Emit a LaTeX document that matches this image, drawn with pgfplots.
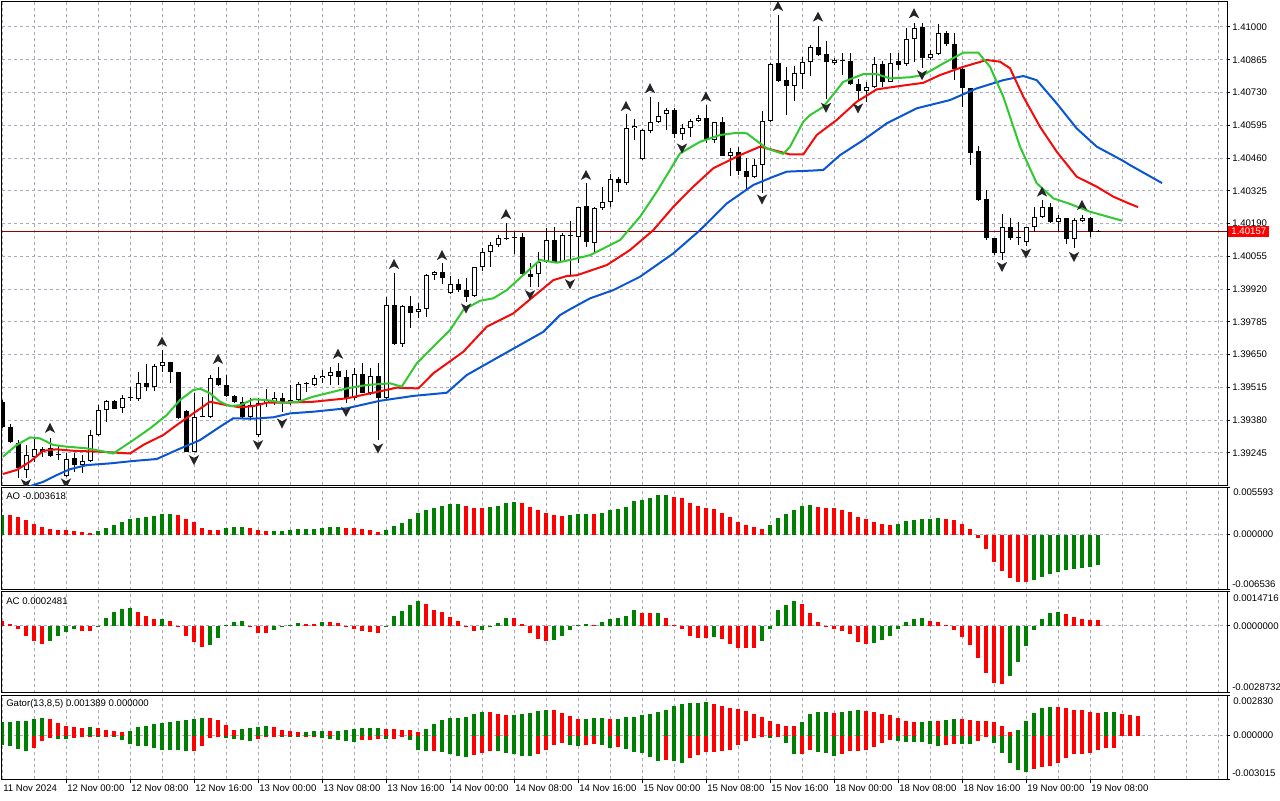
\documentclass[border=0pt]{standalone}
\usepackage{pgfplots}
\pgfplotsset{compat=1.18}
\usepackage{pgfplotstable}
\usepackage{fontspec}
\setmainfont{Liberation Sans}
\newcommand\mt{\fontsize{7.2}{8.6}\selectfont}
\definecolor{gridc}{RGB}{170,170,185}
\definecolor{hgreen}{RGB}{0,128,0}
\definecolor{hred}{RGB}{255,0,0}
\definecolor{jawc}{RGB}{10,85,210}
\definecolor{teethc}{RGB}{245,10,10}
\definecolor{lipsc}{RGB}{50,200,50}
\definecolor{bidc}{RGB}{150,0,0}
\pgfdeclareplotmark{fup}{%
  \pgfpathmoveto{\pgfqpoint{0pt}{3.9pt}}%
  \pgfpathlineto{\pgfqpoint{3.9pt}{-3.7pt}}%
  \pgfpathlineto{\pgfqpoint{0pt}{-1.6pt}}%
  \pgfpathlineto{\pgfqpoint{-3.9pt}{-3.7pt}}%
  \pgfpathclose\pgfusepathqfill}
\pgfdeclareplotmark{fdn}{%
  \pgfpathmoveto{\pgfqpoint{0pt}{-3.9pt}}%
  \pgfpathlineto{\pgfqpoint{3.9pt}{3.7pt}}%
  \pgfpathlineto{\pgfqpoint{0pt}{1.6pt}}%
  \pgfpathlineto{\pgfqpoint{-3.9pt}{3.7pt}}%
  \pgfpathclose\pgfusepathqfill}
\pgfplotsset{
  mtpanel/.style={scale only axis, width=919.125pt, xmin=-0.0625, xmax=153.125,
    axis line style={black, line width=0.75pt},
    xtick={0,4,...,152}, xticklabel=\empty, xtick style={draw=none},
    ytick pos=right, yticklabel pos=right, tick align=outside, major tick length=2.25pt,
    ytick style={black, line width=0.75pt}, scaled y ticks=false,
    grid=major, grid style={gridc, line width=0.75pt, dash pattern=on 2.25pt off 2.25pt},
    clip=true},
  ebar/.style 2 args={draw=none, mark=none, forget plot, error bars/.cd, y dir=plus, y explicit, error mark=none,
    error bar style={draw=#1, solid, line width=#2}},
}
\pgfplotstableread{
i o h l c
0 1.39456 1.39463 1.39348 1.39351
1 1.39351 1.39363 1.39285 1.39291
2 1.39285 1.39298 1.39140 1.39182
3 1.39175 1.39278 1.39140 1.39236
4 1.39229 1.39301 1.39209 1.39261
5 1.39261 1.39271 1.39229 1.39250
6 1.39264 1.39305 1.39229 1.39232
7 1.39236 1.39278 1.39216 1.39235
8 1.39151 1.39246 1.39147 1.39219
9 1.39223 1.39246 1.39168 1.39195
10 1.39195 1.39236 1.39164 1.39213
11 1.39213 1.39339 1.39209 1.39318
12 1.39318 1.39442 1.39315 1.39422
13 1.39422 1.39463 1.39374 1.39459
14 1.39459 1.39463 1.39425 1.39427
15 1.39429 1.39482 1.39411 1.39472
16 1.39472 1.39515 1.39460 1.39474
17 1.39466 1.39578 1.39460 1.39534
18 1.39534 1.39610 1.39501 1.39515
19 1.39515 1.39610 1.39501 1.39603
20 1.39603 1.39669 1.39580 1.39618
21 1.39618 1.39620 1.39534 1.39577
22 1.39577 1.39580 1.39384 1.39388
23 1.39418 1.39422 1.39248 1.39250
24 1.39250 1.39491 1.39248 1.39392
25 1.39394 1.39477 1.39392 1.39396
26 1.39394 1.39566 1.39388 1.39555
27 1.39555 1.39598 1.39521 1.39525
28 1.39525 1.39566 1.39477 1.39480
29 1.39480 1.39484 1.39449 1.39456
30 1.39456 1.39477 1.39388 1.39392
31 1.39392 1.39470 1.39381 1.39442
32 1.39319 1.39470 1.39312 1.39449
33 1.39451 1.39507 1.39435 1.39463
34 1.39456 1.39497 1.39442 1.39472
35 1.39472 1.39491 1.39414 1.39449
36 1.39453 1.39525 1.39442 1.39463
37 1.39463 1.39538 1.39459 1.39528
38 1.39528 1.39538 1.39497 1.39529
39 1.39525 1.39566 1.39521 1.39552
40 1.39552 1.39587 1.39534 1.39562
41 1.39562 1.39600 1.39525 1.39577
42 1.39582 1.39617 1.39525 1.39556
43 1.39556 1.39587 1.39449 1.39470
44 1.39470 1.39594 1.39463 1.39570
45 1.39570 1.39614 1.39491 1.39493
46 1.39493 1.39594 1.39484 1.39562
47 1.39562 1.39617 1.39298 1.39470
48 1.39470 1.39889 1.39467 1.39854
49 1.39854 1.39988 1.39690 1.39694
50 1.39694 1.39854 1.39683 1.39850
51 1.39850 1.39892 1.39758 1.39823
52 1.39824 1.39861 1.39800 1.39838
53 1.39838 1.39982 1.39806 1.39980
54 1.39980 1.39996 1.39957 1.39989
55 1.39989 1.40026 1.39941 1.39964
56 1.39903 1.39974 1.39900 1.39940
57 1.39940 1.39960 1.39908 1.39916
58 1.39916 1.39967 1.39868 1.39889
59 1.39892 1.40012 1.39887 1.40010
60 1.40012 1.40088 1.39996 1.40072
61 1.40072 1.40113 1.40012 1.40102
62 1.40102 1.40143 1.40095 1.40129
63 1.40129 1.40194 1.40122 1.40126
64 1.40133 1.40156 1.40064 1.40130
65 1.40133 1.40150 1.39974 1.39982
66 1.39982 1.40027 1.39929 1.39970
67 1.39982 1.40074 1.39930 1.40033
68 1.40030 1.40170 1.40027 1.40122
69 1.40122 1.40177 1.40027 1.40033
70 1.40033 1.40150 1.40030 1.40143
71 1.40140 1.40202 1.39974 1.40142
72 1.40133 1.40259 1.40026 1.40257
73 1.40262 1.40356 1.40095 1.40113
74 1.40111 1.40257 1.40067 1.40253
75 1.40253 1.40339 1.40246 1.40280
76 1.40278 1.40394 1.40257 1.40372
77 1.40372 1.40383 1.40321 1.40356
78 1.40356 1.40641 1.40349 1.40582
79 1.40582 1.40621 1.40534 1.40592
80 1.40456 1.40580 1.40452 1.40575
81 1.40573 1.40710 1.40564 1.40610
82 1.40610 1.40690 1.40606 1.40634
83 1.40640 1.40665 1.40575 1.40658
84 1.40658 1.40665 1.40541 1.40558
85 1.40558 1.40600 1.40534 1.40582
86 1.40582 1.40621 1.40548 1.40614
87 1.40614 1.40637 1.40608 1.40624
88 1.40624 1.40678 1.40521 1.40534
89 1.40534 1.40610 1.40521 1.40607
90 1.40610 1.40630 1.40468 1.40470
91 1.40470 1.40500 1.40387 1.40486
92 1.40486 1.40507 1.40390 1.40408
93 1.40408 1.40459 1.40328 1.40380
94 1.40380 1.40455 1.40378 1.40431
95 1.40431 1.40654 1.40315 1.40614
96 1.40614 1.40853 1.40610 1.40847
97 1.40853 1.41049 1.40773 1.40779
98 1.40781 1.40836 1.40637 1.40758
99 1.40758 1.40839 1.40696 1.40809
100 1.40806 1.40875 1.40744 1.40854
101 1.40854 1.40926 1.40798 1.40916
102 1.40916 1.41004 1.40880 1.40884
103 1.40889 1.40942 1.40703 1.40854
104 1.40850 1.40873 1.40843 1.40864
105 1.40861 1.40891 1.40802 1.40862
106 1.40860 1.40894 1.40761 1.40764
107 1.40765 1.40784 1.40699 1.40737
108 1.40737 1.40774 1.40692 1.40751
109 1.40751 1.40877 1.40748 1.40846
110 1.40846 1.40861 1.40754 1.40774
111 1.40774 1.40891 1.40773 1.40853
112 1.40860 1.40891 1.40823 1.40843
113 1.40846 1.40994 1.40839 1.40949
114 1.40949 1.41017 1.40857 1.40994
115 1.40998 1.41017 1.40831 1.40871
116 1.40871 1.40905 1.40864 1.40889
117 1.40889 1.41012 1.40884 1.40974
118 1.40974 1.40985 1.40922 1.40930
119 1.40930 1.40974 1.40781 1.40826
120 1.40826 1.40836 1.40671 1.40747
121 1.40747 1.40748 1.40431 1.40482
122 1.40489 1.40510 1.40283 1.40287
123 1.40290 1.40328 1.40122 1.40129
124 1.40129 1.40130 1.40060 1.40070
125 1.40070 1.40228 1.40040 1.40177
126 1.40177 1.40212 1.40122 1.40129
127 1.40132 1.40198 1.40102 1.40130
128 1.40113 1.40177 1.40098 1.40175
129 1.40175 1.40259 1.40156 1.40218
130 1.40218 1.40287 1.40213 1.40259
131 1.40259 1.40273 1.40192 1.40195
132 1.40195 1.40225 1.40156 1.40212
133 1.40212 1.40213 1.40105 1.40125
134 1.40125 1.40212 1.40088 1.40205
135 1.40202 1.40225 1.40196 1.40212
136 1.40212 1.40218 1.40133 1.40154
137 1.40160 1.40165 1.40155 1.40157
}\candles
% AO: s=1 green (rising), s=0 red (falling)
\pgfplotstableread{
i v s
0 0.00236 1
1 0.00234 0
2 0.00212 0
3 0.00176 0
4 0.00127 0
5 0.00091 0
6 0.00067 0
7 0.00055 0
8 0.00054 0
9 0.00042 0
10 0.00030 0
11 0.00018 0
12 0.00042 1
13 0.00079 1
14 0.00115 1
15 0.00152 1
16 0.00188 1
17 0.00200 1
18 0.00212 1
19 0.00224 1
20 0.00248 1
21 0.00250 1
22 0.00236 0
23 0.00188 0
24 0.00152 0
25 0.00079 0
26 0.00055 0
27 0.00054 0
28 0.00079 1
29 0.00091 1
30 0.00092 1
31 0.00079 0
32 0.00055 0
33 0.00042 0
34 0.00043 1
35 0.00044 1
36 0.00055 1
37 0.00067 1
38 0.00068 1
39 0.00069 1
40 0.00079 1
41 0.00091 1
42 0.00092 1
43 0.00079 0
44 0.00078 0
45 0.00067 0
46 0.00055 0
47 0.00030 0
48 0.00055 1
49 0.00103 1
50 0.00139 1
51 0.00188 1
52 0.00261 1
53 0.00297 1
54 0.00321 1
55 0.00345 1
56 0.00358 1
57 0.00359 1
58 0.00345 0
59 0.00321 0
60 0.00320 0
61 0.00333 1
62 0.00345 1
63 0.00370 1
64 0.00382 1
65 0.00370 0
66 0.00333 0
67 0.00297 0
68 0.00261 0
69 0.00236 0
70 0.00224 0
71 0.00236 1
72 0.00248 1
73 0.00249 1
74 0.00247 0
75 0.00261 1
76 0.00297 1
77 0.00309 1
78 0.00333 1
79 0.00394 1
80 0.00406 1
81 0.00430 1
82 0.00467 1
83 0.00468 1
84 0.00442 0
85 0.00430 0
86 0.00370 0
87 0.00345 0
88 0.00321 0
89 0.00309 0
90 0.00261 0
91 0.00212 0
92 0.00152 0
93 0.00115 0
94 0.00090 0
95 0.00070 0
96 0.00116 1
97 0.00200 1
98 0.00248 1
99 0.00297 1
100 0.00345 1
101 0.00346 1
102 0.00322 0
103 0.00321 0
104 0.00320 0
105 0.00297 0
106 0.00273 0
107 0.00212 0
108 0.00188 0
109 0.00155 0
110 0.00127 0
111 0.00115 0
112 0.00127 1
113 0.00164 1
114 0.00176 1
115 0.00188 1
116 0.00189 1
117 0.00200 1
118 0.00188 0
119 0.00176 0
120 0.00127 0
121 0.00067 0
122 -0.00039 0
123 -0.00176 0
124 -0.00321 0
125 -0.00430 0
126 -0.00515 0
127 -0.00564 0
128 -0.00565 0
129 -0.00539 1
130 -0.00503 1
131 -0.00467 1
132 -0.00442 1
133 -0.00418 1
134 -0.00406 1
135 -0.00394 1
136 -0.00382 1
137 -0.003618 1
}\aotab
\pgfplotstableread{
i v s
0 0.00021 0
1 0.00008 0
2 -0.00015 0
3 -0.00043 0
4 -0.00065 0
5 -0.00078 0
6 -0.00065 1
7 -0.00043 1
8 -0.00026 1
9 -0.00015 1
10 -0.00021 0
11 -0.00022 0
12 -0.00001 1
13 0.00035 1
14 0.00057 1
15 0.00074 1
16 0.00075 1
17 0.00057 0
18 0.00040 0
19 0.00027 0
20 0.00028 1
21 0.00021 0
22 -0.00001 0
23 -0.00043 0
24 -0.00069 0
25 -0.00091 0
26 -0.00082 1
27 -0.00052 1
28 0.00001 1
29 0.00018 1
30 0.00020 1
31 -0.00001 0
32 -0.00030 0
33 -0.00031 0
34 -0.00017 1
35 -0.00007 1
36 0.00001 1
37 0.00013 1
38 0.00008 0
39 0.00007 0
40 0.00018 1
41 0.00017 0
42 0.00013 0
43 -0.00002 0
44 -0.00013 0
45 -0.00021 0
46 -0.00026 0
47 -0.00033 0
48 -0.00003 1
49 0.00043 1
50 0.00064 1
51 0.00087 1
52 0.00108 1
53 0.00095 0
54 0.00069 0
55 0.00060 0
56 0.00038 0
57 0.00021 0
58 -0.00001 0
59 -0.00021 0
60 -0.00019 1
61 -0.00007 1
62 0.00012 1
63 0.00034 1
64 0.00033 0
65 0.00008 0
66 -0.00030 0
67 -0.00056 0
68 -0.00065 0
69 -0.00061 1
70 -0.00043 1
71 -0.00017 1
72 0.00003 1
73 0.00008 1
74 0.00004 0
75 0.00017 1
76 0.00030 1
77 0.00034 1
78 0.00043 1
79 0.00069 1
80 0.00056 0
81 0.00055 0
82 0.00056 1
83 0.00034 0
84 0.00002 0
85 -0.00013 0
86 -0.00043 0
87 -0.00052 0
88 -0.00053 0
89 -0.00047 1
90 -0.00057 0
91 -0.00078 0
92 -0.00094 0
93 -0.00096 0
94 -0.00098 0
95 -0.00065 1
96 -0.00013 1
97 0.00067 1
98 0.00090 1
99 0.00108 1
100 0.00095 0
101 0.00056 0
102 0.00014 0
103 -0.00001 0
104 -0.00013 0
105 -0.00021 0
106 -0.00034 0
107 -0.00069 0
108 -0.00078 0
109 -0.00073 1
110 -0.00060 1
111 -0.00043 1
112 -0.00013 1
113 0.00017 1
114 0.00030 1
115 0.00034 1
116 0.00021 0
117 0.00017 0
118 0.00004 0
119 -0.00017 0
120 -0.00047 0
121 -0.00082 0
122 -0.00139 0
123 -0.00204 0
124 -0.00247 0
125 -0.00252 0
126 -0.00217 1
127 -0.00156 1
128 -0.00087 1
129 -0.00017 1
130 0.00030 1
131 0.00056 1
132 0.00057 1
133 0.00052 0
134 0.00038 0
135 0.00030 0
136 0.00026 0
137 0.0002481 0
}\actab
% Gator: u upper (us: 1 green/0 red), l lower (ls)
\pgfplotstableread{
i u us l ls
0 0.00093 1 -0.00067 1
1 0.00097 1 -0.00072 1
2 0.00102 1 -0.00090 1
3 0.00103 1 -0.00107 1
4 0.00116 1 -0.00083 0
5 0.00123 1 -0.00039 0
6 0.00116 0 -0.00013 0
7 0.00088 0 -0.00020 1
8 0.00069 0 -0.00025 1
9 0.00060 0 -0.00013 0
10 0.00055 0 -0.00012 0
11 0.00060 1 -0.00006 0
12 0.00053 0 -0.00007 1
13 0.00039 0 -0.00001 0
14 0.00032 0 -0.00004 1
15 0.00025 0 -0.00032 1
16 0.00032 1 -0.00058 1
17 0.00060 1 -0.00072 1
18 0.00069 1 -0.00073 1
19 0.00081 1 -0.00086 1
20 0.00088 1 -0.00097 1
21 0.00097 1 -0.00102 1
22 0.00104 1 -0.00103 1
23 0.00111 1 -0.00107 1
24 0.00116 1 -0.00106 0
25 0.00123 1 -0.00072 0
26 0.00122 0 -0.00015 0
27 0.00109 0 -0.00006 0
28 0.00074 0 -0.00013 1
29 0.00039 0 -0.00020 1
30 0.00046 1 -0.00032 1
31 0.00055 1 -0.00037 1
32 0.00060 1 -0.00022 0
33 0.00067 1 -0.00008 0
34 0.00060 0 -0.00004 0
35 0.00039 0 -0.00006 1
36 0.00032 0 -0.00008 1
37 0.00025 0 -0.00011 1
38 0.00026 1 -0.00004 0
39 0.00032 1 -0.00003 0
40 0.00033 1 -0.00013 1
41 0.00031 0 -0.00020 1
42 0.00033 1 -0.00032 1
43 0.00039 1 -0.00039 1
44 0.00046 1 -0.00044 1
45 0.00053 1 -0.00030 0
46 0.00054 1 -0.00029 0
47 0.00055 1 -0.00022 0
48 0.00046 0 -0.00023 1
49 0.00045 0 -0.00022 0
50 0.00039 0 -0.00008 0
51 0.00038 0 -0.00032 1
52 0.00025 0 -0.00102 1
53 0.00046 1 -0.00107 1
54 0.00081 1 -0.00106 0
55 0.00109 1 -0.00116 1
56 0.00123 1 -0.00128 1
57 0.00124 1 -0.00142 1
58 0.00130 1 -0.00149 1
59 0.00151 1 -0.00135 0
60 0.00165 1 -0.00121 0
61 0.00164 0 -0.00107 0
62 0.00151 0 -0.00110 1
63 0.00144 0 -0.00118 1
64 0.00145 1 -0.00128 1
65 0.00151 1 -0.00142 1
66 0.00158 1 -0.00143 1
67 0.00173 1 -0.00128 0
68 0.00180 1 -0.00102 0
69 0.00179 0 -0.00067 0
70 0.00158 0 -0.00051 0
71 0.00137 0 -0.00067 1
72 0.00116 0 -0.00072 1
73 0.00117 1 -0.00066 0
74 0.00123 1 -0.00058 0
75 0.00124 1 -0.00065 1
76 0.00116 0 -0.00086 1
77 0.00117 1 -0.00079 0
78 0.00130 1 -0.00093 1
79 0.00131 1 -0.00114 1
80 0.00144 1 -0.00121 1
81 0.00151 1 -0.00149 1
82 0.00165 1 -0.00177 1
83 0.00180 1 -0.00170 0
84 0.00208 1 -0.00178 1
85 0.00222 1 -0.00192 1
86 0.00229 1 -0.00156 0
87 0.00230 1 -0.00135 0
88 0.00236 1 -0.00114 0
89 0.00222 0 -0.00113 0
90 0.00208 0 -0.00107 0
91 0.00194 0 -0.00097 0
92 0.00187 0 -0.00065 0
93 0.00173 0 -0.00037 0
94 0.00151 0 -0.00015 0
95 0.00130 0 -0.00002 0
96 0.00102 0 -0.00013 1
97 0.00081 0 -0.00003 0
98 0.00067 0 -0.00051 1
99 0.00066 0 -0.00128 1
100 0.00095 1 -0.00127 0
101 0.00151 1 -0.00100 0
102 0.00165 1 -0.00114 1
103 0.00166 1 -0.00121 1
104 0.00158 0 -0.00142 1
105 0.00165 1 -0.00128 0
106 0.00173 1 -0.00107 0
107 0.00180 1 -0.00106 0
108 0.00173 0 -0.00100 0
109 0.00165 0 -0.00079 0
110 0.00151 0 -0.00051 0
111 0.00144 0 -0.00030 0
112 0.00123 0 -0.00037 1
113 0.00102 0 -0.00044 1
114 0.00095 0 -0.00045 1
115 0.00096 1 -0.00046 1
116 0.00102 1 -0.00058 1
117 0.00101 0 -0.00072 1
118 0.00109 1 -0.00065 0
119 0.00116 1 -0.00058 0
120 0.00115 0 -0.00059 1
121 0.00109 0 -0.00060 1
122 0.00102 0 -0.00037 0
123 0.00101 0 -0.00008 0
124 0.00095 0 -0.00051 1
125 0.00067 0 -0.00121 1
126 0.00025 0 -0.00192 1
127 0.00039 1 -0.00241 1
128 0.00102 1 -0.00255 1
129 0.00158 1 -0.00234 0
130 0.00194 1 -0.00220 0
131 0.00201 1 -0.00213 0
132 0.00200 0 -0.00192 0
133 0.00194 0 -0.00156 0
134 0.00180 0 -0.00128 0
135 0.00179 0 -0.00127 0
136 0.00165 0 -0.00121 0
137 0.00158 0 -0.00100 0
138 0.00165 1 -0.00086 0
139 0.00166 1 -0.00085 0
140 0.00151 0 0 0
141 0.00144 0 0 0
142 0.001389 0 0 0
}\gatortab
\begin{document}
\begin{tikzpicture}
\path[use as bounding box, fill=white] (0,0) rectangle (960pt,600pt);
% ---------------- main price panel ----------------
\begin{axis}[mtpanel, at={(1.125pt,236.25pt)}, anchor=south west, height=362.25pt,
  ymin=1.39113, ymax=1.41103,
  ytick={1.39245,1.39380,1.39515,1.39650,1.39785,1.39920,1.40055,1.40190,1.40325,1.40460,1.40595,1.40730,1.40865,1.41000},
  yticklabels={1.39245,1.39380,1.39515,1.39650,1.39785,1.39920,1.40055,1.40190,1.40325,1.40460,1.40595,1.40730,1.40865,1.41000},
  yticklabel style={font=\mt, anchor=west, inner sep=0pt, xshift=1.5pt},
  clip marker paths=true]
\addplot[bidc, line width=0.75pt, forget plot] coordinates {(-1,1.40157) (155,1.40157)};
% wicks
\addplot[ebar={black}{0.75pt}]
  table[x=i, y=l, y error plus expr={\thisrow{h}-\thisrow{l}}] {\candles};
% bodies
\addplot[ebar={black}{3.75pt}]
  table[x=i, y expr={min(\thisrow{o},\thisrow{c})}, y error plus expr={max(abs(\thisrow{c}-\thisrow{o}),0.00004)}] {\candles};
% hollow interior of up candles
\addplot[ebar={white}{2.25pt}]
  table[x=i, y expr={\thisrow{o}+0.0000412}, y error plus expr={max(\thisrow{c}-\thisrow{o}-0.0000824,0)}] {\candles};
% Alligator
\addplot[jawc, line width=1.5pt] coordinates {(2,1.39084) (3.91,1.39113) (5.16,1.39126) (6.84,1.39154) (8.5,1.39178) (10.59,1.39195) (13.5,1.39202) (16.41,1.39212) (19.34,1.39220) (21.84,1.39257) (24.75,1.39298) (27.25,1.39353) (28.91,1.39388) (31.41,1.39386) (33.91,1.39392) (36,1.39408) (38.91,1.39415) (43.09,1.39429) (47.25,1.39460) (51.41,1.39480) (55.59,1.39493) (58.09,1.39566) (61.41,1.39628) (64.75,1.39690) (67.66,1.39744) (69.75,1.39813) (71,1.39837) (73.5,1.39882) (76.41,1.39916) (79.75,1.39971) (83.91,1.40067) (87.25,1.40163) (90.59,1.40273) (93.91,1.40349) (96.41,1.40383) (98.09,1.40404) (101,1.40408) (102.66,1.40411) (104.75,1.40472) (107.66,1.40534) (110.59,1.40603) (114.34,1.40665) (118.5,1.40699) (121.84,1.40747) (125.16,1.40781) (127.66,1.40798) (129.34,1.40781) (131.84,1.40685) (134.34,1.40582) (136.84,1.40507) (140.16,1.40448) (141,1.40431) (143,1.40394) (145,1.40357)};
\addplot[teethc, line width=1.5pt] coordinates {(0.09,1.39158) (1.84,1.39175) (3.5,1.39209) (5.16,1.39254) (6.84,1.39260) (8.91,1.39254) (12.25,1.39250) (16,1.39243) (17.66,1.39278) (20.16,1.39319) (21.84,1.39360) (23.91,1.39408) (26,1.39456) (28.09,1.39442) (29.75,1.39433) (31.41,1.39438) (33.09,1.39452) (35.16,1.39452) (38.91,1.39456) (43.09,1.39470) (46.41,1.39493) (49.34,1.39514) (52.04,1.39511) (53.91,1.39573) (57.66,1.39662) (60.59,1.39765) (63.91,1.39820) (66.41,1.39889) (68.91,1.39957) (70.59,1.39974) (71.84,1.39977) (75.59,1.40019) (78.5,1.40081) (81.41,1.40163) (83.91,1.40259) (86.41,1.40342) (88.91,1.40418) (92.25,1.40472) (94.75,1.40507) (96.41,1.40493) (98.5,1.40475) (100.16,1.40475) (101.84,1.40555) (104.34,1.40617) (106.84,1.40692) (109.34,1.40743) (112.25,1.40757) (115.16,1.40770) (117.25,1.40802) (120.16,1.40836) (123.09,1.40864) (124.75,1.40857) (126,1.40830) (127.66,1.40713) (129.75,1.40589) (131.84,1.40486) (134.34,1.40383) (136.84,1.40342) (138.91,1.40301) (141,1.40271) (142,1.40258)};
\addplot[lipsc, line width=1.5pt] coordinates {(0.09,1.39229) (1.84,1.39278) (3.5,1.39309) (4.75,1.39305) (6.41,1.39278) (8.09,1.39271) (10.59,1.39264) (12.25,1.39254) (13.91,1.39243) (16.41,1.39298) (18.5,1.39346) (20.59,1.39401) (22.25,1.39463) (23.91,1.39504) (24.75,1.39510) (26,1.39491) (27.25,1.39456) (28.5,1.39438) (29.75,1.39442) (31.41,1.39466) (33.09,1.39463) (35.16,1.39452) (37.04,1.39456) (38.91,1.39477) (43.09,1.39511) (45.59,1.39525) (48.5,1.39532) (49.96,1.39518) (51.84,1.39614) (54.34,1.39697) (56,1.39751) (57.66,1.39834) (59.75,1.39872) (61.41,1.39882) (63.09,1.39916) (65.16,1.39978) (67.25,1.40040) (69.34,1.40029) (71,1.40040) (73.5,1.40060) (77.25,1.40122) (79.75,1.40218) (81.84,1.40321) (84.75,1.40479) (87.25,1.40527) (89.75,1.40555) (91.84,1.40564) (93.09,1.40562) (95.59,1.40500) (97.66,1.40477) (98.5,1.40507) (100.16,1.40610) (101,1.40637) (102.66,1.40671) (105.16,1.40774) (107.66,1.40806) (109.34,1.40806) (111,1.40788) (113.5,1.40793) (115.16,1.40802) (117.66,1.40850) (120.16,1.40894) (122.04,1.40894) (123.5,1.40836) (125.16,1.40713) (127.25,1.40507) (129.34,1.40356) (131.41,1.40294) (133.5,1.40271) (136,1.40239) (140,1.40202)};
% Fractals
\addplot[only marks, mark=fup, mark options={fill=black!85}] coordinates {(6,1.39348) (20,1.39703) (27,1.39632) (42,1.39653) (49,1.40023) (55,1.40060) (63,1.40229) (73,1.40390) (78,1.40674) (81,1.40747) (88,1.40713) (97,1.41086) (102,1.41042) (114,1.41056) (130,1.40321) (135,1.40266)};
\addplot[only marks, mark=fdn, mark options={fill=black!85}] coordinates {(3,1.39117) (8,1.39120) (24,1.39216) (32,1.39278) (35,1.39367) (43,1.39415) (47,1.39264) (58,1.39841) (66,1.39896) (71,1.39941) (85,1.40500) (95,1.40290) (103,1.40668) (107,1.40665) (115,1.40802) (125,1.40012) (128,1.40067) (134,1.40053)};
\end{axis}
% ---------------- AO ----------------
\begin{axis}[mtpanel, at={(1.125pt,157.875pt)}, anchor=south west, height=76.5pt,
  ymin=-0.006536, ymax=0.005593, ytick={-0.006536,0,0.005593}, yticklabel=\empty]
\addplot[ebar={hgreen}{3.5pt}] table[x=i, y expr={min(0,\thisrow{v})}, y error plus expr={abs(\thisrow{v})*\thisrow{s}}] {\aotab};
\addplot[ebar={hred}{3.5pt}] table[x=i, y expr={min(0,\thisrow{v})}, y error plus expr={abs(\thisrow{v})*(1-\thisrow{s})}] {\aotab};
\end{axis}
% ---------------- AC ----------------
\begin{axis}[mtpanel, at={(1.125pt,80.625pt)}, anchor=south west, height=75.75pt,
  ymin=-0.0028732, ymax=0.0014716, ytick={-0.0028732,0,0.0014716}, yticklabel=\empty]
\addplot[ebar={hgreen}{3.5pt}] table[x=i, y expr={min(0,\thisrow{v})}, y error plus expr={abs(\thisrow{v})*\thisrow{s}}] {\actab};
\addplot[ebar={hred}{3.5pt}] table[x=i, y expr={min(0,\thisrow{v})}, y error plus expr={abs(\thisrow{v})*(1-\thisrow{s})}] {\actab};
\end{axis}
% ---------------- Gator ----------------
\begin{axis}[mtpanel, at={(1.125pt,15.75pt)}, anchor=south west, height=63pt,
  ymin=-0.003015, ymax=0.002830, ytick={-0.003015,0,0.002830}, yticklabel=\empty,
  extra x ticks={8,16,...,136}, extra x tick labels={},
  extra x tick style={grid=none, xtick pos=left, xtick style={draw=black, line width=0.75pt}, major tick length=3pt}]
\addplot[ebar={hgreen}{3.5pt}] table[x=i, y expr={0}, y error plus expr={\thisrow{u}*\thisrow{us}}] {\gatortab};
\addplot[ebar={hred}{3.5pt}] table[x=i, y expr={0}, y error plus expr={\thisrow{u}*(1-\thisrow{us})}] {\gatortab};
\addplot[ebar={hgreen}{3.5pt}] table[x=i, y expr={\thisrow{l}*\thisrow{ls}}, y error plus expr={-\thisrow{l}*\thisrow{ls}}] {\gatortab};
\addplot[ebar={hred}{3.5pt}] table[x=i, y expr={\thisrow{l}*(1-\thisrow{ls})}, y error plus expr={-\thisrow{l}*(1-\thisrow{ls})}] {\gatortab};
\end{axis}
% ---------------- texts ----------------
\begin{scope}[every node/.style={font=\mt, inner sep=0pt, anchor=west}]
\node at ({6*0.75pt},{(800-496.5)*0.75pt}) {AO -0.003618};
\node at ({6*0.75pt},{(800-601.5)*0.75pt}) {AC 0.0002481};
\node at ({6*0.75pt},{(800-704.3)*0.75pt}) {Gator(13,8,5) 0.001389 0.000000};
\node at ({1233*0.75pt},{(800-492.3)*0.75pt}) {0.005593};
\node at ({1233*0.75pt},{(800-534.3)*0.75pt}) {0.000000};
\node at ({1232*0.75pt},{(800-584.3)*0.75pt}) {-0.006536};
\node at ({1233*0.75pt},{(800-597.7)*0.75pt}) {0.0014716};
\node at ({1233*0.75pt},{(800-625.7)*0.75pt}) {0.0000000};
\node at ({1232*0.75pt},{(800-687.3)*0.75pt}) {-0.0028732};
\node at ({1233*0.75pt},{(800-700.7)*0.75pt}) {0.002830};
\node at ({1233*0.75pt},{(800-735.3)*0.75pt}) {0.000000};
\node at ({1232*0.75pt},{(800-773.3)*0.75pt}) {-0.003015};
\foreach \k/\t in {0/11 Nov 2024, 8/12 Nov 00:00, 16/12 Nov 08:00, 24/12 Nov 16:00, 32/13 Nov 00:00, 40/13 Nov 08:00, 48/13 Nov 16:00, 56/14 Nov 00:00, 64/14 Nov 08:00, 72/14 Nov 16:00, 80/15 Nov 00:00, 88/15 Nov 08:00, 96/15 Nov 16:00, 104/18 Nov 00:00, 112/18 Nov 08:00, 120/18 Nov 16:00, 128/19 Nov 00:00, 136/19 Nov 08:00}
  {\node at ({(3+8*\k)*0.75pt},{(800-788.3)*0.75pt}) {\t};}
\end{scope}
\node[anchor=west, fill=hred, text=white, font=\mt, inner xsep=2.4pt, inner ysep=1.6pt] at ({1228*0.75pt},{(800-231.6)*0.75pt}) {1.40157};
\end{tikzpicture}
\end{document}
